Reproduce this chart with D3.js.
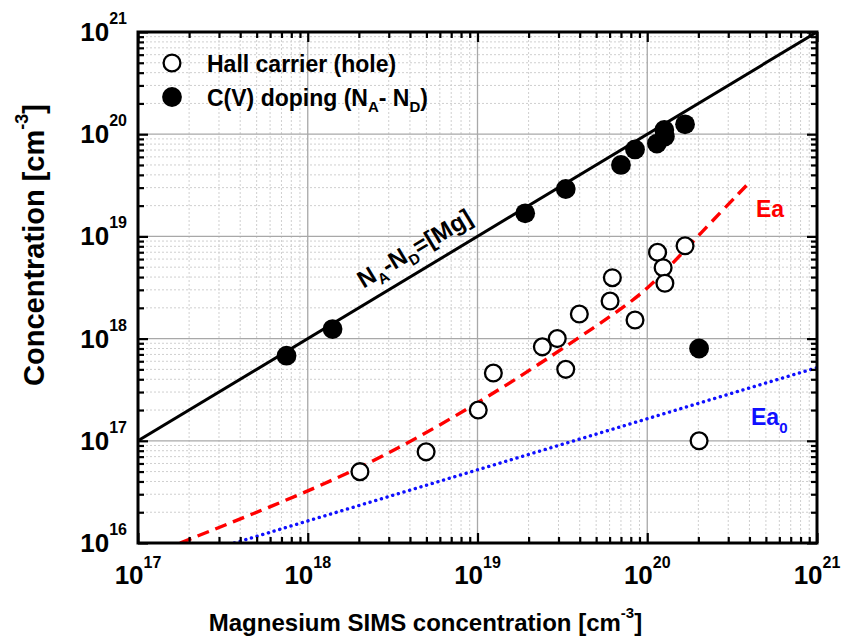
<!DOCTYPE html>
<html><head><meta charset="utf-8">
<script src="https://cdn.jsdelivr.net/npm/d3@7"></script>
<style>
body{margin:0;background:#fff;}
svg{display:block;font-family:"Liberation Sans",Arial,sans-serif;font-weight:bold;}
</style></head>
<body><svg id="c" width="845" height="639"></svg>
<script>
// ---- data ----
const hallX = [2.03e18, 4.98e18, 1.01e19, 1.24e19, 2.41e19, 2.95e19, 3.31e19, 3.98e19, 6.04e19, 6.23e19, 8.47e19, 1.15e20, 1.24e20, 1.27e20, 1.67e20, 2.02e20];
const hallY = [4.99e16, 7.8e16, 2.0e17, 4.6e17, 8.3e17, 1.0e18, 5.0e17, 1.74e18, 2.33e18, 3.94e18, 1.52e18, 6.98e18, 4.94e18, 3.48e18, 8.1e18, 1.0e17];
const cvX = [7.5e17, 1.40e18, 1.91e19, 3.31e19, 7.0e19, 8.47e19, 1.14e20, 1.27e20, 1.26e20, 1.67e20, 2.02e20];
const cvY = [6.8e17, 1.24e18, 1.68e19, 2.91e19, 5.0e19, 7.1e19, 8.1e19, 9.5e19, 1.1e20, 1.25e20, 8.0e17];
const mgLineX = [1e17, 1e21];
const mgLineY = [1e17, 1e21];
const eaX = [1.77e17, 6.0e17, 2.67e18, 1.48e19, 5.27e19, 1.0e20, 1.95e20, 3.85e20];
const eaY = [1.0e16, 2.24e16, 6.46e16, 3.39e17, 1.41e18, 2.9e18, 9.8e18, 3.16e19];
const ea0X = [3.7e17, 1e21];
const ea0Y = [1.0e16, 5.2e17];
const xMajor = [1e17, 1e18, 1e19, 1e20, 1e21];
const yMajor = [1e16, 1e17, 1e18, 1e19, 1e20, 1e21];
const xTickExp = ["17", "18", "19", "20", "21"];
const yTickExp = ["16", "17", "18", "19", "20", "21"];

// ---- layout ----
const L = 138, R = 817, T = 32, B = 543;
const svg = d3.select("#c");
const x = d3.scaleLog().domain([1e17, 1e21]).range([L, R]);
const y = d3.scaleLog().domain([1e16, 1e21]).range([B, T]);

function minors(dom) {
  const out = [];
  for (let e = Math.log10(dom[0]); e < Math.log10(dom[1]); e++)
    for (let m = 2; m <= 9; m++) out.push(m * Math.pow(10, e));
  return out;
}
const xMinor = minors(x.domain()), yMinor = minors(y.domain());

// grid
const g = svg.append("g");
g.selectAll(".vx").data(xMinor).enter().append("line")
  .attr("x1", d => x(d)).attr("x2", d => x(d)).attr("y1", T).attr("y2", B)
  .attr("stroke", "#cfcfcf").attr("stroke-width", 1).attr("stroke-dasharray", "2,2");
g.selectAll(".hy").data(yMinor).enter().append("line")
  .attr("y1", d => y(d)).attr("y2", d => y(d)).attr("x1", L).attr("x2", R)
  .attr("stroke", "#cfcfcf").attr("stroke-width", 1).attr("stroke-dasharray", "2,2");
g.selectAll(".vM").data(xMajor).enter().append("line")
  .attr("x1", d => x(d)).attr("x2", d => x(d)).attr("y1", T).attr("y2", B)
  .attr("stroke", "#a8a8a8").attr("stroke-width", 1.3);
g.selectAll(".hM").data(yMajor).enter().append("line")
  .attr("y1", d => y(d)).attr("y2", d => y(d)).attr("x1", L).attr("x2", R)
  .attr("stroke", "#a8a8a8").attr("stroke-width", 1.3);

// clip
svg.append("clipPath").attr("id", "clip").append("rect")
  .attr("x", L).attr("y", T).attr("width", R - L).attr("height", B - T);
const plot = svg.append("g").attr("clip-path", "url(#clip)");

plot.append("path").datum(d3.zip(mgLineX, mgLineY))
  .attr("d", d3.line().x(d => x(d[0])).y(d => y(d[1])))
  .attr("fill", "none").attr("stroke", "#000").attr("stroke-width", 3);
plot.append("path").datum(d3.zip(eaX, eaY))
  .attr("d", d3.line().x(d => x(d[0])).y(d => y(d[1])).curve(d3.curveBasis))
  .attr("fill", "none").attr("stroke", "#ff0000").attr("stroke-width", 3.4)
  .attr("stroke-dasharray", "12,7");
plot.append("path").datum(d3.zip(ea0X, ea0Y))
  .attr("d", d3.line().x(d => x(d[0])).y(d => y(d[1])))
  .attr("fill", "none").attr("stroke", "#1010ff").attr("stroke-width", 3.4)
  .attr("stroke-dasharray", "0.1,5.8").attr("stroke-linecap", "round");

// points
svg.append("g").selectAll("circle").data(d3.zip(hallX, hallY)).enter().append("circle")
  .attr("cx", d => x(d[0])).attr("cy", d => y(d[1])).attr("r", 8.4)
  .attr("fill", "#fff").attr("stroke", "#000").attr("stroke-width", 2.3);
svg.append("g").selectAll("circle").data(d3.zip(cvX, cvY)).enter().append("circle")
  .attr("cx", d => x(d[0])).attr("cy", d => y(d[1])).attr("r", 9.9)
  .attr("fill", "#000");

// axes ticks (inward)
function tickAxis(axisFn, scale, vals, size, tr) {
  svg.append("g").attr("transform", tr)
    .call(axisFn(scale).tickValues(vals).tickSize(size).tickFormat(""))
    .call(s => s.select(".domain").remove())
    .selectAll("line").attr("stroke", "#000").attr("stroke-width", 2.2);
}
tickAxis(d3.axisBottom, x, xMinor, -6, `translate(0,${B})`);
tickAxis(d3.axisBottom, x, xMajor, -10, `translate(0,${B})`);
tickAxis(d3.axisTop, x, xMinor, -6, `translate(0,${T})`);
tickAxis(d3.axisTop, x, xMajor, -10, `translate(0,${T})`);
tickAxis(d3.axisLeft, y, yMinor, -6, `translate(${L},0)`);
tickAxis(d3.axisLeft, y, yMajor, -10, `translate(${L},0)`);
tickAxis(d3.axisRight, y, yMinor, -6, `translate(${R},0)`);
tickAxis(d3.axisRight, y, yMajor, -10, `translate(${R},0)`);

svg.append("rect").attr("x", L).attr("y", T).attr("width", R - L).attr("height", B - T)
  .attr("fill", "none").attr("stroke", "#000").attr("stroke-width", 3);

// tick labels
xMajor.forEach((v, i) => {
  const t = svg.append("text").attr("x", x(v)).attr("y", 584).attr("text-anchor", "middle")
    .attr("font-size", 26);
  t.append("tspan").text("10");
  t.append("tspan").attr("font-size", 16).attr("dy", -16).text(xTickExp[i]);
});
yMajor.forEach((v, i) => {
  const t = svg.append("text").attr("x", 127).attr("y", y(v) + 9).attr("text-anchor", "end")
    .attr("font-size", 26);
  t.append("tspan").text("10");
  t.append("tspan").attr("font-size", 16).attr("dy", -17).text(yTickExp[i]);
});

// axis titles
const xt = svg.append("text").attr("x", (L + R) / 2 - 52).attr("y", 631).attr("text-anchor", "middle")
  .attr("font-size", 24);
xt.append("tspan").text("Magnesium SIMS concentration [cm");
xt.append("tspan").attr("font-size", 15).attr("dy", -13).text("-3");
xt.append("tspan").attr("dy", 13).text("]");

const yt = svg.append("text").attr("transform", `translate(44,${245}) rotate(-90)`)
  .attr("text-anchor", "middle").attr("font-size", 29);
yt.append("tspan").text("Concentration [cm");
yt.append("tspan").attr("font-size", 18).attr("dy", -16).text("-3");
yt.append("tspan").attr("dy", 16).text("]");

// legend
svg.append("circle").attr("cx", 172).attr("cy", 63).attr("r", 8.4)
  .attr("fill", "#fff").attr("stroke", "#000").attr("stroke-width", 2.3);
svg.append("circle").attr("cx", 172).attr("cy", 97).attr("r", 9.9).attr("fill", "#000");
svg.append("text").attr("x", 207).attr("y", 72).attr("font-size", 23).text("Hall carrier (hole)");
const l2 = svg.append("text").attr("x", 207).attr("y", 106).attr("font-size", 23);
l2.append("tspan").text("C(V) doping (N");
l2.append("tspan").attr("font-size", 15).attr("dy", 6).text("A");
l2.append("tspan").attr("dy", -6).text("- N");
l2.append("tspan").attr("font-size", 15).attr("dy", 6).text("D");
l2.append("tspan").attr("dy", -6).text(")");

// annotation along line
const ang = Math.atan2(y(1e17) - y(1e18), x(1e18) - x(1e17)) * 180 / Math.PI;
const an = svg.append("text")
  .attr("transform", `translate(${x(2.35e18)},${y(2.35e18)}) rotate(${-ang})`)
  .attr("y", -14).attr("font-size", 24);
an.append("tspan").text("N");
an.append("tspan").attr("font-size", 15).attr("dy", 6).text("A");
an.append("tspan").attr("dy", -6).text("-N");
an.append("tspan").attr("font-size", 15).attr("dy", 6).text("D");
an.append("tspan").attr("dy", -6).text("=[Mg]");

// curve labels
svg.append("text").attr("x", 756).attr("y", 217).attr("font-size", 23).attr("fill", "#ff0000").text("Ea");
const e0 = svg.append("text").attr("x", 751).attr("y", 425).attr("font-size", 23).attr("fill", "#1010ff");
e0.append("tspan").text("Ea");
e0.append("tspan").attr("font-size", 15).attr("dy", 8).text("0");
</script></body></html>
